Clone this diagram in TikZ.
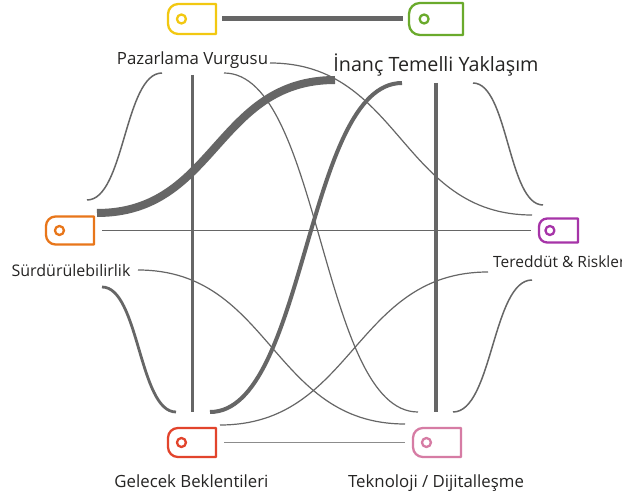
\documentclass[tikz,border=0pt]{standalone}
\usepackage{fontspec}
\setmainfont{Open Sans}
\usetikzlibrary{calc}
\definecolor{lin}{RGB}{102,102,102}
\definecolor{linlight}{RGB}{140,140,140}
\definecolor{cyel}{RGB}{242,200,17}
\definecolor{cgrn}{RGB}{106,170,44}
\definecolor{cora}{RGB}{232,118,26}
\definecolor{cpur}{RGB}{166,52,168}
\definecolor{cred}{RGB}{226,68,44}
\definecolor{cpnk}{RGB}{214,124,164}
\definecolor{txt}{RGB}{37,36,35}
\tikzset{
  tagline/.style={line width=2.3pt, line join=round},
  lbl/.style={text=txt, inner sep=0pt, font=\fontsize{16.8}{20}\selectfont},
  lblbig/.style={text=txt, inner sep=0pt, font=\fontsize{19.7}{23}\selectfont},
  thin/.style={lin, line width=1.2pt},
}
% #1 name, #2 cx, #3 cy, #4 w, #5 h, #6 colour
\newcommand\tagicon[6]{%
  \node[inner sep=0pt, minimum width=#4pt, minimum height=#5pt] (#1) at (#2,#3) {};
  \draw[tagline, #6] ({#2+#4/2},{#3-#5/2}) -- ({#2+#4/2},{#3+#5/2})
     -- ({#2-#4/2+0.34*#5},{#3+#5/2}) arc[start angle=90,end angle=180,radius={0.34*#5}]
     -- ({#2-#4/2},{#3-#5/2+0.34*#5}) arc[start angle=180,end angle=270,radius={0.34*#5}] -- cycle;
  \draw[tagline, #6] ({#2-#4/2+0.28*#4},#3) circle[radius=4.5];
}
\newcommand\sig[3]{\draw[#1] let \p1=(#2), \p2=(#3) in (#2) .. controls ({(\x1+\x2)/2},\y1) and ({(\x1+\x2)/2},\y2) .. (#3);}
\begin{document}
\begin{tikzpicture}[x=1pt, y=-1pt]
\fill[white] (0,0) rectangle (622,497);
\useasboundingbox (0,0) rectangle (622,497);

% tags
\tagicon{paz}{192}{19}{48}{30}{cyel}
\tagicon{inanc}{436}{19}{54}{32}{cgrn}
\tagicon{surd}{70}{230.5}{48}{28}{cora}
\tagicon{tered}{558.5}{230.5}{39}{24}{cpur}
\tagicon{gel}{192}{442.5}{48}{29}{cred}
\tagicon{tek}{437}{442.5}{48}{29}{cpnk}

% labels
\node[lbl, anchor=base] (lpaz) at (192.5,65) {Pazarlama Vurgusu};
\node[lblbig, anchor=base] (linanc) at (436,72) {İnanç Temelli Yaklaşım};
\node[lbl, anchor=base, font=\fontsize{16}{19}\selectfont] (lsurd) at (71,277) {Sürdürülebilirlik};
\node[lbl, anchor=base west, font=\fontsize{15.5}{18}\selectfont] (ltered) at (493,268) {Tereddüt \& Riskler};
\node[lbl, anchor=base] (lgel) at (191.5,487) {Gelecek Beklentileri};
\node[lbl, anchor=base] (ltek) at (436,487) {Teknoloji / Dijitalleşme};

% straight connectors
\draw[lin, line width=5pt, shorten <=6pt, shorten >=6pt] (paz.east) -- (inanc.west);
\draw[lin, line width=1.5pt, shorten <=8pt, shorten >=8pt] (surd.east) -- (tered.west);
\draw[linlight, line width=1.3pt, shorten <=8pt, shorten >=8pt] (gel.east) -- (tek.west);

% port coordinates
\coordinate (pazV) at (192,75);   \coordinate (gelV) at (192,412);
\coordinate (inaV) at (436,83);   \coordinate (tekV) at (436,412);
\coordinate (surA) at (97,213);   \coordinate (inaA) at (335,80);
\coordinate (surB) at (87,200);   \coordinate (pazB) at (162,73);
\coordinate (pazC) at (224,73);   \coordinate (tekC) at (418,412);
\coordinate (pazD) at (270,63);   \coordinate (terD) at (532,215);
\coordinate (inaE) at (473,83);   \coordinate (terE) at (543,205);
\coordinate (surF) at (138,270);  \coordinate (tekF) at (405,424);
\coordinate (gelG) at (220,425);  \coordinate (terG) at (488,272);
\coordinate (surH) at (102,287);  \coordinate (gelH) at (176,412);
\coordinate (tekI) at (453,412);  \coordinate (terI) at (532,280);
\coordinate (gelJ) at (210,412);  \coordinate (inaJ) at (402,83);

\draw[lin, line width=3pt] (pazV) -- (gelV);
\draw[lin, line width=4pt] (inaV) -- (tekV);

\sig{lin, line width=8pt}{surA}{inaA}
\sig{lin, line width=1.5pt}{surB}{pazB}
\sig{thin}{pazC}{tekC}
\sig{thin}{pazD}{terD}
\sig{lin, line width=1.5pt}{inaE}{terE}
\sig{thin}{surF}{tekF}
\sig{thin}{gelG}{terG}
\sig{lin, line width=2.8pt}{surH}{gelH}
\sig{lin, line width=1.5pt}{tekI}{terI}
\sig{lin, line width=4pt}{gelJ}{inaJ}
\end{tikzpicture}
\end{document}
